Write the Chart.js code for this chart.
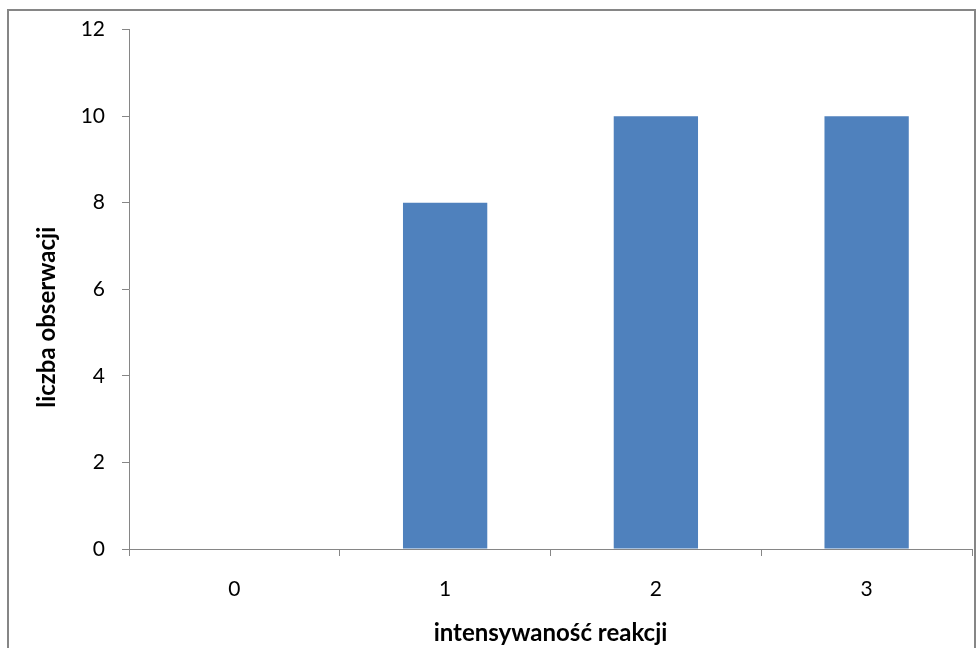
<html>
<head>
<script src="https://cdn.jsdelivr.net/npm/chart.js@4.4.1/dist/chart.umd.min.js"></script>
<style>
body{margin:0;background:#fff;}
#wrap{position:relative;width:979px;height:648px;}
</style>
</head>
<body>
<div id="wrap"><canvas id="myChart" width="979" height="648"></canvas></div>
<script type="text/javascript">

// dane z wykresu
var categories = ["0", "1", "2", "3"];
var counts = [0, 8, 10, 10];
var yTicks = [0, 2, 4, 6, 8, 10, 12];
var yTitle = "liczba obserwacji";
var xTitle = "intensywaność reakcji";

var axisGrey = "#868686";
var fontFam = "Lato, 'Liberation Sans', sans-serif";

// ramka wokół wykresu + tytuł osi Y (w Excelu jest lekko niżej niż środek osi)
var frame = {
	id: "frame",
	beforeDraw: function(chart){
		var ctx = chart.ctx;
		ctx.save();
		ctx.fillStyle = "#fff";
		ctx.fillRect(0, 0, chart.width, chart.height);
		ctx.strokeStyle = axisGrey;
		ctx.lineWidth = 2;
		ctx.strokeRect(8, 10, 967, 660);
		ctx.restore();
	},
	afterDraw: function(chart){
		var ctx = chart.ctx;
		var area = chart.chartArea;
		ctx.save();
		ctx.translate(47, (area.top + area.bottom) / 2 + 28);
		ctx.rotate(-Math.PI / 2);
		ctx.font = "bold 24px " + fontFam;
		ctx.fillStyle = "#000";
		ctx.textAlign = "center";
		ctx.textBaseline = "middle";
		ctx.fillText(yTitle, 0, 0);
		ctx.restore();
	}
};

new Chart("myChart", {
	type: "bar",
	data: {
		labels: categories,
		datasets: [{
			data: counts,
			backgroundColor: "#4F81BD",
			borderWidth: 0,
			categoryPercentage: 1,
			barPercentage: 0.4
		}]
	},
	options: {
		responsive: false,
		animation: false,
		layout: {padding: {top: 29, right: 7, left: 0, bottom: 0}},
		plugins: {legend: {display: false}, tooltip: {enabled: false}},
		scales: {
			x: {
				offset: true,
				grid: {offset: true, drawOnChartArea: false, drawTicks: true, tickLength: 7, color: axisGrey},
				border: {color: axisGrey, width: 1},
				ticks: {color: "#000", padding: 21, font: {family: fontFam, size: 21}},
				title: {display: true, text: xTitle, color: "#000", font: {family: fontFam, size: 24, weight: "bold"}, padding: {top: 4, bottom: 0}},
				afterFit: function(scale){ scale.height = 99; }
			},
			y: {
				min: 0,
				max: 12,
				afterBuildTicks: function(scale){ scale.ticks = yTicks.map(function(v){ return {value: v}; }); },
				grid: {drawOnChartArea: false, drawTicks: true, tickLength: 7, color: axisGrey},
				border: {color: axisGrey, width: 1},
				ticks: {color: "#000", padding: 17, font: {family: fontFam, size: 21}},
				afterFit: function(scale){ scale.width = 129; }
			}
		}
	},
	plugins: [frame]
});
</script>
</body>
</html>
